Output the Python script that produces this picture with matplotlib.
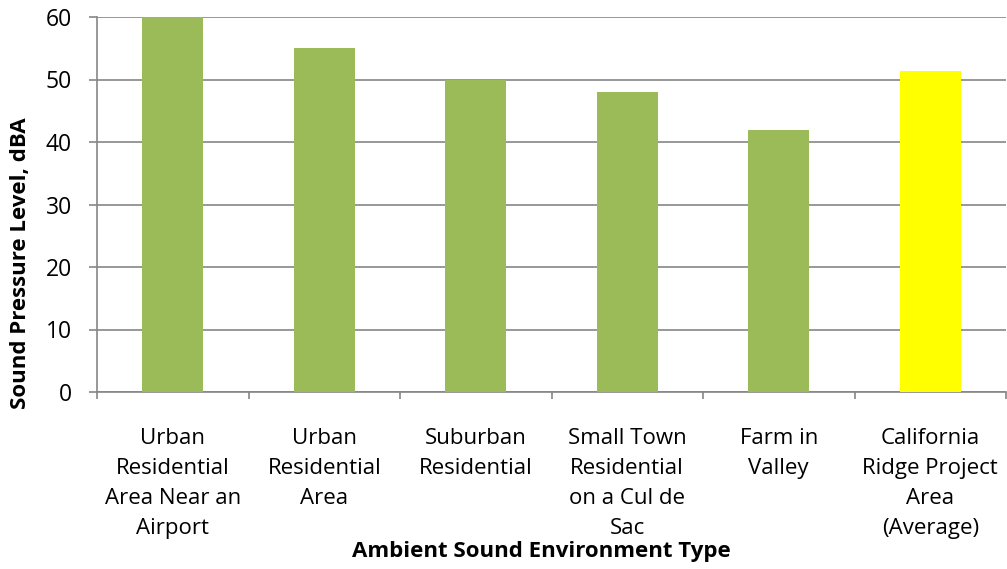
import matplotlib.pyplot as plt
import numpy as np

plt.rcParams['font.family'] = ['Open Sans', 'DejaVu Sans']

categories = ["Urban\nResidential\nArea Near an\nAirport",
              "Urban\nResidential\nArea",
              "Suburban\nResidential",
              "Small Town\nResidential\non a Cul de\nSac",
              "Farm in\nValley",
              "California\nRidge Project\nArea\n(Average)"]
levels = [60, 55, 50, 48, 42, 51.4]
bar_colors = ["#9BBB59"] * 5 + ["#FFFF00"]

fig = plt.figure(figsize=(10.07, 5.69), dpi=100)
ax = fig.add_axes([97/1007, 1 - 392/569, 909/1007, 375/569])

x = np.arange(len(categories))
ax.bar(x, levels, width=0.4, color=bar_colors, zorder=3)

ax.set_xlim(-0.5, len(categories) - 0.5)
ax.set_ylim(0, 60)
ax.set_yticks(np.arange(0, 61, 10))
ax.yaxis.grid(True, color="#868686", linewidth=1.2, zorder=0)

ax.set_xticks(x)
ax.set_xticklabels(categories, fontsize=16, linespacing=1.56)
ax.tick_params(axis='x', length=0, pad=26)
ax.set_xticks(np.arange(-0.5, len(categories)), minor=True)
ax.tick_params(axis='x', which='minor', length=5, color="#868686", width=1.2, direction='out')
ax.tick_params(axis='y', labelsize=16.5, length=6, color="#868686", width=1.2, pad=12)

for side in ['top', 'right']:
    ax.spines[side].set_visible(False)
for side in ['left', 'bottom']:
    ax.spines[side].set_color("#868686")
    ax.spines[side].set_linewidth(1.2)

fig.text(21/1007, 1 - 263/569, "Sound Pressure Level, dBA", rotation=90,
         ha='center', va='center', fontsize=16, fontweight='bold')
fig.text(541/1007, 1 - 552/569, "Ambient Sound Environment Type",
         ha='center', va='center', fontsize=16, fontweight='bold')

plt.savefig("out.png", dpi=100)
